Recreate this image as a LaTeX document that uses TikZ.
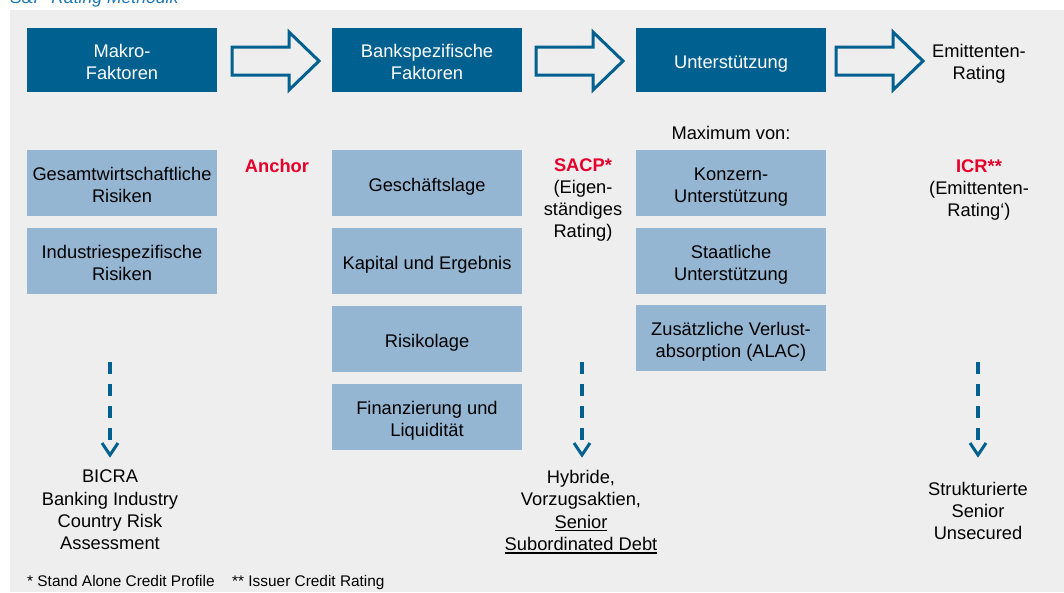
\documentclass[tikz,border=0pt]{standalone}
\usepackage{fontspec}
\setmainfont{Liberation Sans}
\usetikzlibrary{calc}
\definecolor{dkblue}{RGB}{0,96,143}
\definecolor{ltblue}{RGB}{149,182,210}
\definecolor{bgcol}{RGB}{238,238,238}
\definecolor{redlbl}{RGB}{228,0,43}
\definecolor{titleblue}{RGB}{30,120,180}
\newcommand\myul[1]{\setbox0\hbox{#1}\rlap{\raisebox{-3pt}{\rule{\wd0}{1.4pt}}}\box0}
\newcommand\tx[2][4pt]{\raisebox{-#1}[\height][\depth]{\begin{tabular}{@{}c@{}}#2\end{tabular}}}
\begin{document}
\begin{tikzpicture}[x=1pt,y=-1pt,
  txt/.style={font=\fontsize{18.3}{22.3}\selectfont, align=center, inner sep=0pt},
  darkbox/.style={txt, fill=dkblue, text=white, minimum width=190pt, minimum height=64pt},
  lightbox/.style={txt, fill=ltblue, text=black, minimum width=190pt, minimum height=66pt},
  redtxt/.style={txt, text=redlbl, font=\fontsize{18.3}{22.3}\selectfont\bfseries},
  blockarrow/.style={draw=dkblue, line width=3pt},
  dashline/.style={draw=dkblue, line width=3.5pt, dash pattern=on 12pt off 10pt},
  chev/.style={draw=dkblue, line width=3pt},
  foot/.style={font=\fontsize{15.4}{18}\selectfont, inner sep=0pt, anchor=base west}]
\useasboundingbox (0,0) rectangle (1064,592);
\fill[bgcol] (10,10) rectangle (1064,592);
\node[inner sep=0pt, anchor=base west, text=titleblue, font=\fontsize{17.6}{20}\selectfont\itshape] (title) at (10,3.5) {S\&P-Rating Methodik};

% top row
\node[darkbox] (makro) at (122,60) {\tx{Makro-\\Faktoren}};
\node[darkbox] (bank) at (427,60) {\tx{Bankspezifische\\Faktoren}};
\node[darkbox] (unter) at (731,60) {\tx{Unterstützung}};
\node[txt] (emit) at (979,63.5) {Emittenten-\\Rating};

\foreach \x in {232,536,836} {
  \draw[blockarrow] (\x,47) -- (\x+57,47) -- (\x+57,32) -- (\x+87,61) -- (\x+57,90) -- (\x+57,75) -- (\x,75) -- cycle;
}

% column 1
\node[lightbox] (gesamt) at (122,183) {\tx{Gesamtwirtschaftliche\\Risiken}};
\node[lightbox] (indus) at (122,261) {\tx{Industriespezifische\\Risiken}};

% column 2
\node[lightbox] (gesch) at (427,183) {\tx{Geschäftslage}};
\node[lightbox] (kapital) at (427,261) {\tx{Kapital und Ergebnis}};
\node[lightbox] (risiko) at (427,339) {\tx{Risikolage}};
\node[lightbox] (finanz) at (427,417) {\tx{Finanzierung und\\Liquidität}};

% column 3
\node[txt] (maxvon) at (731,133) {Maximum von:};
\node[lightbox] (konzern) at (731,183) {\tx{Konzern-\\Unterstützung}};
\node[lightbox] (staat) at (731,261) {\tx{Staatliche\\Unterstützung}};
\node[lightbox] (alac) at (731,338) {\tx{Zusätzliche Verlust-\\absorption (ALAC)}};

% red labels
\node[redtxt] (anchor) at (277,165.5) {Anchor};
\node[txt] (sacp) at (583,200) {\textcolor{redlbl}{\bfseries SACP*}\\(Eigen-\\ständiges\\Rating)};
\node[txt] (icr) at (979,190) {\textcolor{redlbl}{\bfseries ICR**}\\(Emittenten-\\Rating‘)};

% bottom texts
\node[txt] (bicra) at (110,510) {BICRA\\Banking Industry\\Country Risk\\Assessment};
\node[txt] (hybrid) at (581,512) {Hybride,\\Vorzugsaktien,\\\myul{Senior}\\\myul{Subordinated Debt}};
\node[txt] (struct) at (978,511) {Strukturierte\\Senior\\Unsecured};

% dashed arrows
\foreach \n/\x in {1/110,2/582,3/978} {
  \coordinate (d\n s) at (\x,362);
  \coordinate (d\n e) at (\x,455);
}
\foreach \n in {1,2,3} {
  \draw[dashline] (d\n s) -- ($(d\n e)+(0,-14)$);
  \draw[chev] ($(d\n e)+(-8,-12)$) -- (d\n e) -- ($(d\n e)+(8,-12)$);
}

% footnotes
\node[foot] (fn1) at (27,586) {* Stand Alone Credit Profile};
\node[foot] (fn2) at (232,586) {** Issuer Credit Rating};
\end{tikzpicture}
\end{document}
